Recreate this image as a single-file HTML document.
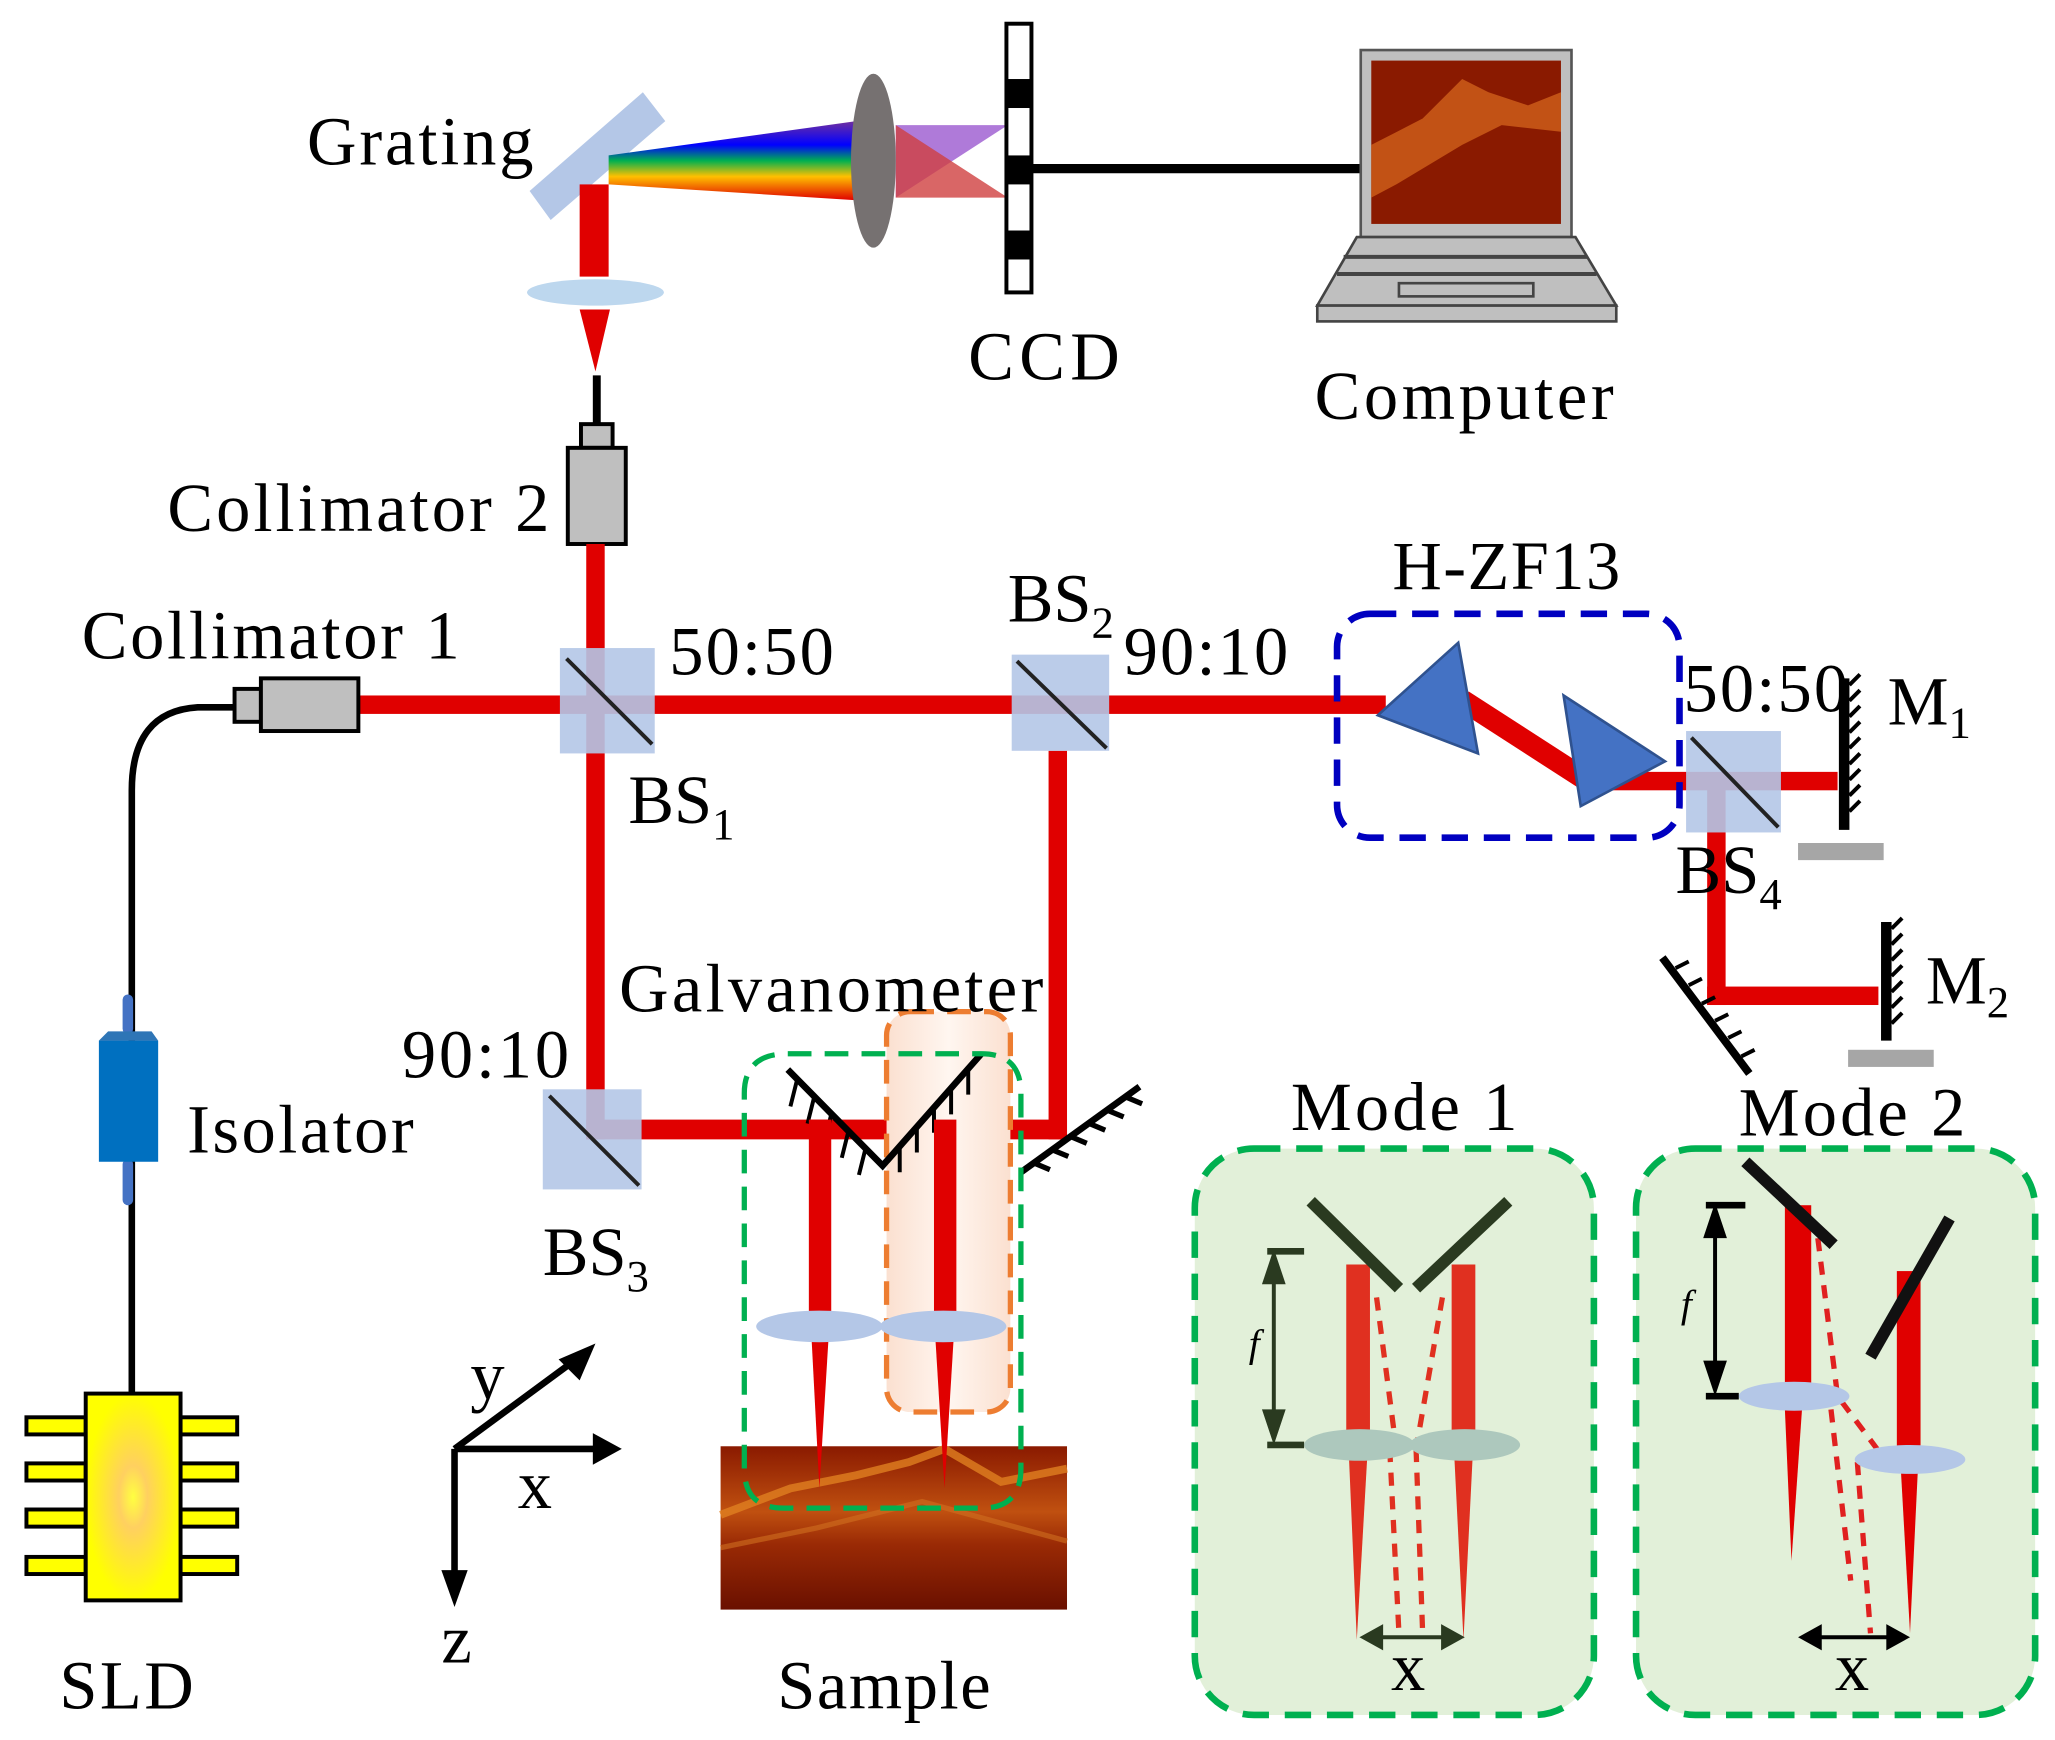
<!DOCTYPE html>
<html><head><meta charset="utf-8"><style>html,body{margin:0;padding:0;background:#fff}svg{display:block}text{font-family:"Liberation Serif",serif;fill:#000}</style></head><body>
<svg width="2055" height="1740" viewBox="0 0 1560 1321" xmlns="http://www.w3.org/2000/svg">
<defs>
<linearGradient id="spec" x1="0" y1="0" x2="0" y2="1">
<stop offset="0" stop-color="#7030a0"/><stop offset="0.3" stop-color="#0000ff"/><stop offset="0.5" stop-color="#00b050"/><stop offset="0.7" stop-color="#ffc000"/><stop offset="1" stop-color="#e00000"/></linearGradient>
<radialGradient id="sld"><stop offset="0" stop-color="#ffff40"/><stop offset="0.3" stop-color="#ffd060"/><stop offset="1" stop-color="#ffff00"/></radialGradient>
<linearGradient id="oct" x1="0" y1="0" x2="0" y2="1"><stop offset="0" stop-color="#8a1a00"/><stop offset="0.4" stop-color="#c05010"/><stop offset="0.6" stop-color="#9a2a05"/><stop offset="1" stop-color="#6a1000"/></linearGradient>
<linearGradient id="peach" x1="0" x2="1"><stop offset="0" stop-color="#fbe0d0"/><stop offset="0.5" stop-color="#fff6f0"/><stop offset="1" stop-color="#fbe0d0"/></linearGradient>
</defs>
<polygon points="402,145 488,70 505,92 418,167" fill="#b4c7e7"/>
<polygon points="462,118 650,92 650,152 462,140" fill="url(#spec)"/>
<polygon points="680,95 765,95 680,150" fill="#9b59d0" opacity="0.8"/>
<polygon points="680,95 765,150 680,150" fill="#d04040" opacity="0.8"/>
<ellipse cx="663" cy="122" rx="17" ry="66" fill="#767171"/>
<rect x="764" y="18" width="19" height="204" fill="#fff" stroke="#000" stroke-width="3"/>
<rect x="764" y="60" width="19" height="22" fill="#000"/><rect x="764" y="118" width="19" height="22" fill="#000"/><rect x="764" y="175" width="19" height="22" fill="#000"/>
<line x1="783" y1="128" x2="1035" y2="128" stroke="#000" stroke-width="7"/>
<rect x="1033" y="38" width="160" height="142" fill="#bfbfbf" stroke="#555" stroke-width="2"/>
<rect x="1041" y="46" width="144" height="124" fill="#8a1a00"/>
<path d="M1041,110 L1080,90 L1110,60 L1130,70 L1160,80 L1185,70 L1185,100 L1140,95 L1110,110 L1060,140 L1041,150Z" fill="#d0601a" opacity="0.8"/>
<polygon points="1030,180 1196,180 1227,232 1000,232" fill="#bfbfbf" stroke="#444" stroke-width="2"/>
<rect x="1000" y="232" width="227" height="12" fill="#bfbfbf" stroke="#444" stroke-width="2"/>
<line x1="1020" y1="195" x2="1205" y2="195" stroke="#444" stroke-width="3"/><line x1="1015" y1="208" x2="1212" y2="208" stroke="#444" stroke-width="3"/>
<rect x="1062" y="215" width="102" height="10" fill="none" stroke="#444" stroke-width="2"/>
<rect x="440" y="140" width="22" height="70" fill="#e00000"/>
<ellipse cx="452" cy="222" rx="52" ry="10" fill="#bdd7ee"/>
<polygon points="440,235 463,235 452,282" fill="#e00000"/>
<line x1="453" y1="285" x2="453" y2="322" stroke="#000" stroke-width="6"/>
<rect x="441" y="322" width="24" height="18" fill="#bfbfbf" stroke="#000" stroke-width="3"/>
<rect x="431" y="340" width="44" height="73" fill="#bfbfbf" stroke="#000" stroke-width="3"/>
<rect x="445" y="413" width="14" height="452" fill="#e00000"/>
<rect x="270" y="528" width="782" height="14" fill="#e00000"/>
<polygon points="1105,538 1115,525 1208,585 1198,598" fill="#e00000"/>
<rect x="1200" y="586" width="195" height="14" fill="#e00000"/>
<rect x="796" y="570" width="14" height="295" fill="#e00000"/>
<rect x="445" y="850" width="365" height="15" fill="#e00000"/>
<rect x="1296" y="595" width="14" height="168" fill="#e00000"/>
<rect x="1296" y="749" width="130" height="14" fill="#e00000"/>
<rect x="425" y="492" width="72" height="80" fill="#b4c7e7" opacity="0.9"/><line x1="430" y1="500" x2="495" y2="565" stroke="#222" stroke-width="3"/>
<rect x="768" y="497" width="74" height="73" fill="#b4c7e7" opacity="0.9"/><line x1="772" y1="502" x2="840" y2="568" stroke="#222" stroke-width="3"/>
<rect x="412" y="827" width="75" height="76" fill="#b4c7e7" opacity="0.9"/><line x1="417" y1="832" x2="485" y2="900" stroke="#222" stroke-width="3"/>
<rect x="1280" y="555" width="72" height="77" fill="#b4c7e7" opacity="0.9"/><line x1="1284" y1="560" x2="1350" y2="628" stroke="#222" stroke-width="3"/>
<polygon points="1107,488 1122,572 1046,543" fill="#4472c4" stroke="#2f528f" stroke-width="2"/>
<polygon points="1187,528 1264,578 1200,612" fill="#4472c4" stroke="#2f528f" stroke-width="2"/>
<rect x="1015" y="466" width="260" height="170" rx="25" fill="none" stroke="#0000c0" stroke-width="5" stroke-dasharray="20,12"/>
<line x1="1400" y1="515" x2="1400" y2="630" stroke="#000" stroke-width="8"/>
<path d="M1404,520 l8,-8 M1404,532 l8,-8 M1404,544 l8,-8 M1404,556 l8,-8 M1404,568 l8,-8 M1404,580 l8,-8 M1404,592 l8,-8 M1404,604 l8,-8 M1404,616 l8,-8" stroke="#000" stroke-width="3"/>
<rect x="1365" y="640" width="65" height="13" fill="#a6a6a6"/>
<line x1="1432" y1="700" x2="1432" y2="790" stroke="#000" stroke-width="8"/>
<path d="M1436,705 l8,-8 M1436,717 l8,-8 M1436,729 l8,-8 M1436,741 l8,-8 M1436,753 l8,-8 M1436,765 l8,-8 M1436,777 l8,-8" stroke="#000" stroke-width="3"/>
<rect x="1403" y="797" width="65" height="13" fill="#a6a6a6"/>
<line x1="1262" y1="727" x2="1328" y2="815" stroke="#000" stroke-width="6"/>
<path d="M1272,735 l10,-5 M1282,748 l10,-5 M1292,762 l10,-5 M1302,775 l10,-5 M1312,788 l10,-5 M1322,802 l10,-5" stroke="#000" stroke-width="3"/>
<path d="M178,537 L150,537 Q100,540 100,600 L100,1058" fill="none" stroke="#000" stroke-width="5"/>
<rect x="178" y="523" width="20" height="25" fill="#bfbfbf" stroke="#000" stroke-width="3"/>
<rect x="198" y="515" width="74" height="40" fill="#bfbfbf" stroke="#000" stroke-width="3"/>
<rect x="93" y="755" width="8" height="30" rx="4" fill="#4472c4"/><rect x="93" y="880" width="8" height="35" rx="4" fill="#4472c4"/>
<rect x="75" y="790" width="45" height="92" fill="#0070c0"/><polygon points="75,790 82,783 115,783 120,790" fill="#2e75b6"/>
<g fill="#ffff00" stroke="#000" stroke-width="3">
<rect x="20" y="1076" width="45" height="13"/><rect x="20" y="1111" width="45" height="13"/><rect x="20" y="1146" width="45" height="13"/><rect x="20" y="1182" width="45" height="13"/>
<rect x="137" y="1076" width="43" height="13"/><rect x="137" y="1111" width="43" height="13"/><rect x="137" y="1146" width="43" height="13"/><rect x="137" y="1182" width="43" height="13"/>
<rect x="65" y="1058" width="72" height="157" fill="url(#sld)"/></g>
<rect x="673" y="768" width="94" height="304" rx="18" fill="url(#peach)" stroke="#ed7d31" stroke-width="4" stroke-dasharray="18,10"/>
<rect x="547" y="1098" width="263" height="124" fill="url(#oct)"/>
<path d="M547,1150 L600,1130 L650,1120 L690,1110 L717,1100 L760,1125 L810,1115" stroke="#e08020" stroke-width="6" fill="none" opacity="0.8"/>
<path d="M547,1175 L620,1160 L700,1140 L810,1170" stroke="#d07020" stroke-width="4" fill="none" opacity="0.6"/>
<path d="M598,812 L670,885 L745,800" fill="none" stroke="#000" stroke-width="5"/>
<path d="M605,820 l-5,20 M618,833 l-5,20 M631,846 l-5,20 M644,859 l-5,20 M657,872 l-5,20 M683,870 l0,20 M696,855 l0,20 M709,840 l0,20 M722,826 l0,20 M735,811 l0,20" stroke="#000" stroke-width="3"/>
<line x1="775" y1="890" x2="865" y2="825" stroke="#000" stroke-width="5"/>
<path d="M785,883 l12,5 M799,873 l12,5 M813,863 l12,5 M827,853 l12,5 M841,843 l12,5 M855,833 l12,5" stroke="#000" stroke-width="4"/>
<rect x="614" y="850" width="17" height="157" fill="#e00000"/>
<rect x="709" y="850" width="17" height="157" fill="#e00000"/>
<polygon points="616,1015 629,1015 622,1130" fill="#e00000"/><polygon points="710,1015 724,1015 717,1130" fill="#e00000"/>
<ellipse cx="622" cy="1007" rx="48" ry="12" fill="#b4c7e7"/><ellipse cx="716" cy="1007" rx="48" ry="12" fill="#b4c7e7"/>
<path d="M598,800 L745,800 Q775,800 775,830 L775,1115 Q775,1145 745,1145 L595,1145 Q565,1145 565,1115 L565,830 Q565,800 598,800Z" fill="none" stroke="#00b050" stroke-width="4" stroke-dasharray="18,10"/>
<g stroke="#000" stroke-width="5" fill="none"><line x1="345" y1="1100" x2="440" y2="1030"/><line x1="345" y1="1100" x2="455" y2="1100"/><line x1="345" y1="1100" x2="345" y2="1195"/></g>
<polygon points="452,1020 424,1032 440,1048" fill="#000"/><polygon points="472,1100 450,1088 450,1112" fill="#000"/><polygon points="345,1220 335,1192 355,1192" fill="#000"/>
<rect x="907" y="872" width="303" height="430" rx="45" fill="#e2f0d9" stroke="#00b050" stroke-width="5" stroke-dasharray="20,12"/>
<rect x="1242" y="872" width="303" height="430" rx="45" fill="#e2f0d9" stroke="#00b050" stroke-width="5" stroke-dasharray="20,12"/>
<rect x="1022" y="960" width="18" height="137" fill="#e03020"/><rect x="1102" y="960" width="18" height="137" fill="#e03020"/>
<path d="M1045,985 L1060,1100 M1095,985 L1075,1100 M1055,1100 L1062,1240 M1075,1100 L1080,1240" stroke="#e03020" stroke-width="4" stroke-dasharray="10,8" fill="none"/>
<polygon points="1024,1105 1038,1105 1030,1245" fill="#e03020"/><polygon points="1104,1105 1118,1105 1111,1245" fill="#e03020"/>
<line x1="995" y1="912" x2="1062" y2="978" stroke="#2a3a20" stroke-width="9"/><line x1="1075" y1="978" x2="1145" y2="912" stroke="#2a3a20" stroke-width="9"/>
<ellipse cx="1032" cy="1097" rx="42" ry="12" fill="#adc8bd"/><ellipse cx="1112" cy="1097" rx="42" ry="12" fill="#adc8bd"/>
<line x1="967" y1="960" x2="967" y2="1090" stroke="#2a3a20" stroke-width="3"/><polygon points="967,948 958,975 976,975" fill="#2a3a20"/><polygon points="967,1097 958,1070 976,1070" fill="#2a3a20"/>
<line x1="962" y1="950" x2="990" y2="950" stroke="#2a3a20" stroke-width="5"/><line x1="962" y1="1097" x2="990" y2="1097" stroke="#2a3a20" stroke-width="5"/>
<line x1="1040" y1="1243" x2="1105" y2="1243" stroke="#2a3a20" stroke-width="3"/><polygon points="1032,1243 1050,1233 1050,1253" fill="#2a3a20"/><polygon points="1112,1243 1094,1233 1094,1253" fill="#2a3a20"/>
<rect x="1355" y="915" width="20" height="147" fill="#e00000"/><rect x="1440" y="965" width="18" height="140" fill="#e00000"/>
<path d="M1380,940 L1395,1060 L1425,1100 M1390,1070 L1405,1200 M1410,1110 L1420,1240" stroke="#e02020" stroke-width="4" stroke-dasharray="10,8" fill="none"/>
<polygon points="1355,1070 1368,1070 1360,1185" fill="#e00000"/><polygon points="1443,1115 1456,1115 1450,1240" fill="#e00000"/>
<line x1="1325" y1="882" x2="1392" y2="945" stroke="#111" stroke-width="9"/><line x1="1480" y1="925" x2="1420" y2="1030" stroke="#111" stroke-width="9"/>
<ellipse cx="1362" cy="1060" rx="42" ry="11" fill="#b4c7e7"/><ellipse cx="1450" cy="1108" rx="42" ry="11" fill="#b4c7e7"/>
<line x1="1302" y1="925" x2="1302" y2="1050" stroke="#000" stroke-width="3"/><polygon points="1302,913 1293,940 1311,940" fill="#000"/><polygon points="1302,1060 1293,1033 1311,1033" fill="#000"/>
<line x1="1295" y1="915" x2="1325" y2="915" stroke="#000" stroke-width="5"/><line x1="1295" y1="1060" x2="1320" y2="1060" stroke="#000" stroke-width="5"/>
<line x1="1372" y1="1243" x2="1443" y2="1243" stroke="#000" stroke-width="3"/><polygon points="1365,1243 1383,1233 1383,1253" fill="#000"/><polygon points="1450,1243 1432,1233 1432,1253" fill="#000"/>
<g font-size="52">
<text x="233" y="125" textLength="172">Grating</text>
<text x="735" y="288" textLength="115">CCD</text>
<text x="998" y="318" textLength="227">Computer</text>
<text x="127" y="403" textLength="290">Collimator 2</text>
<text x="62" y="500" textLength="287">Collimator 1</text>
<text x="508" y="512" textLength="125">50:50</text>
<text x="765" y="472">BS<tspan font-size="34" dy="12">2</tspan></text>
<text x="853" y="512" textLength="125">90:10</text>
<text x="1057" y="447" textLength="173">H-ZF13</text>
<text x="1278" y="540" textLength="125">50:50</text>
<text x="1433" y="550">M<tspan font-size="34" dy="10">1</tspan></text>
<text x="477" y="625">BS<tspan font-size="34" dy="12">1</tspan></text>
<text x="1272" y="678">BS<tspan font-size="34" dy="12">4</tspan></text>
<text x="470" y="768" textLength="322">Galvanometer</text>
<text x="305" y="818" textLength="127">90:10</text>
<text x="1462" y="762">M<tspan font-size="34" dy="10">2</tspan></text>
<text x="142" y="875" textLength="172">Isolator</text>
<text x="980" y="858" textLength="172">Mode 1</text>
<text x="1320" y="862" textLength="172">Mode 2</text>
<text x="412" y="968">BS<tspan font-size="34" dy="12">3</tspan></text>
<text x="357" y="1062">y</text>
<text x="393" y="1145">x</text>
<text x="335" y="1262">z</text>
<text x="45" y="1297" textLength="102">SLD</text>
<text x="590" y="1297" textLength="162">Sample</text>
<text x="1056" y="1283">x</text>
<text x="1393" y="1283">x</text>
</g>
<text x="948" y="1030" font-size="30" font-style="italic">f</text>
<text x="1276" y="1000" font-size="30" font-style="italic">f</text>
</svg>
</body></html>
